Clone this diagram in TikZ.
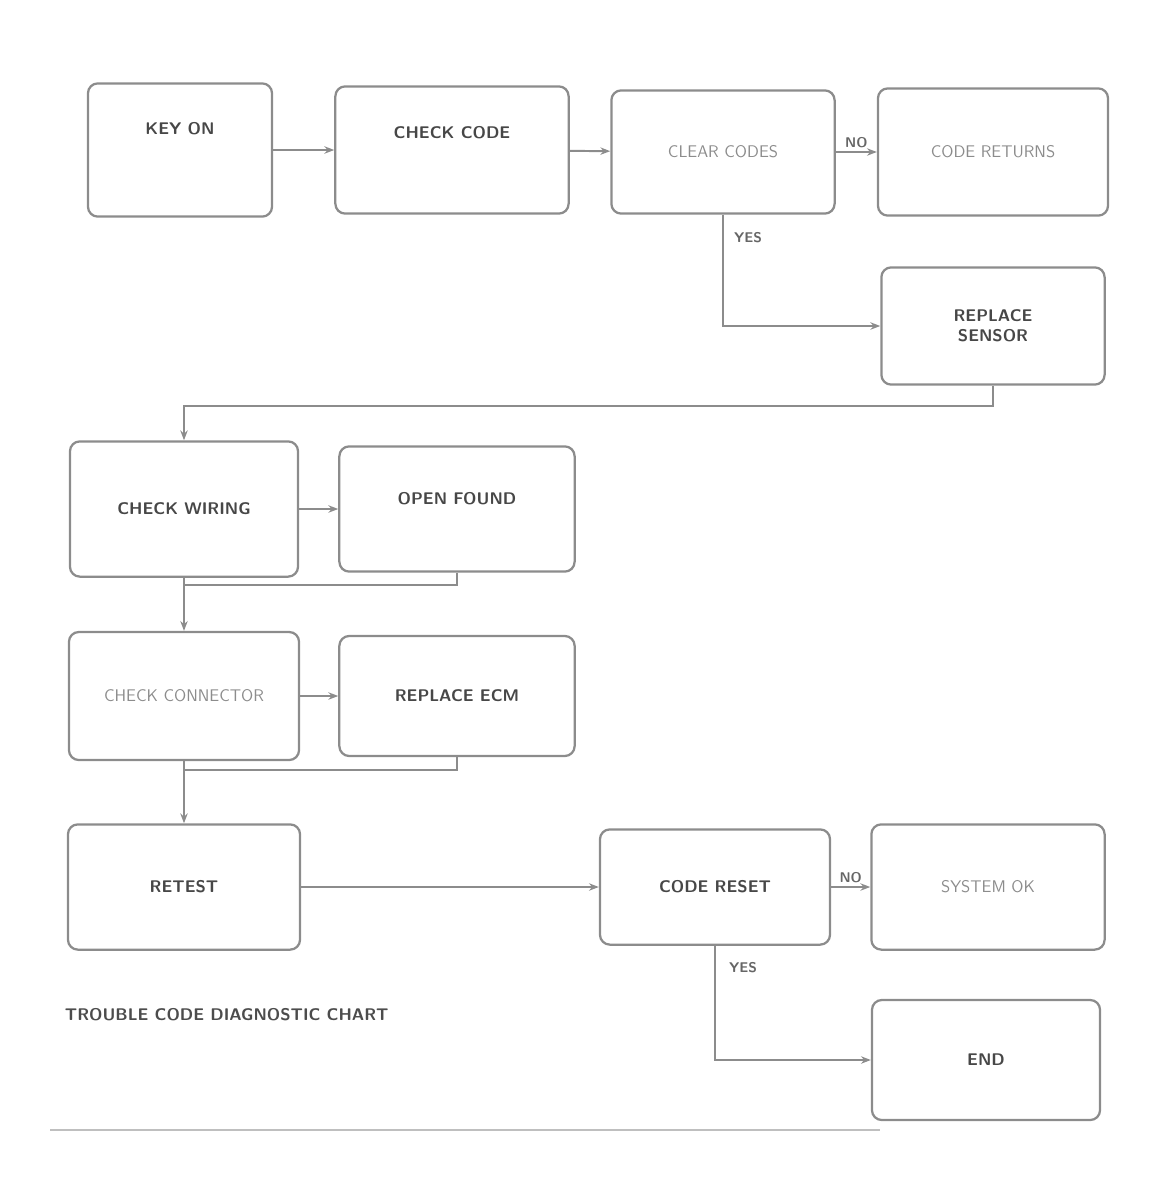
\documentclass[tikz,border=0pt]{standalone}
\usetikzlibrary{arrows.meta}

\tikzset{
    chartbox/.style={draw=black!45,line width=1.6pt,rounded corners=7pt,align=center,
        font=\sffamily\large\bfseries,text=black!72,inner sep=4pt},
    lightbox/.style={chartbox,font=\sffamily\large,text=black!45},
    raised/.style={text height=9pt,text depth=#1},
    answer/.style={font=\sffamily\bfseries,text=black!60,inner sep=2pt}
}

\begin{document}
\begin{tikzpicture}[x=0.025cm,y=-0.025cm,>={Stealth[length=7pt]}]
    \useasboundingbox (0,0) rectangle (1157,1204);

        % steps of the chart
        \begin{scope}[every node/.style={chartbox}]
            \node[raised=1.1cm,minimum width=4.6cm,minimum height=3.33cm] (1) at (180,150) {KEY ON};
            \node[raised=0.9cm,minimum width=5.83cm,minimum height=3.18cm] (2) at (452,150) {CHECK CODE};
            \node[lightbox,minimum width=5.58cm,minimum height=3.08cm] (3) at (723,152) {CLEAR CODES};
            \node[lightbox,minimum width=5.75cm,minimum height=3.18cm] (4) at (993,152) {CODE RETURNS};
            \node[minimum width=5.58cm,minimum height=2.93cm] (5) at (993,326) {REPLACE\\SENSOR};
            \node[minimum width=5.7cm,minimum height=3.38cm] (6) at (184,509) {CHECK WIRING};
            \node[raised=0.55cm,minimum width=5.88cm,minimum height=3.13cm] (7) at (457,509) {OPEN FOUND};
            \node[lightbox,minimum width=5.75cm,minimum height=3.2cm] (8) at (184,696) {CHECK CONNECTOR};
            \node[minimum width=5.88cm,minimum height=3.0cm] (9) at (457,696) {REPLACE ECM};
            \node[minimum width=5.8cm,minimum height=3.13cm] (10) at (184,887) {RETEST};
            \node[minimum width=5.75cm,minimum height=2.88cm] (11) at (715,887) {CODE RESET};
            \node[lightbox,minimum width=5.83cm,minimum height=3.13cm] (12) at (988,887) {SYSTEM OK};
            \node[minimum width=5.7cm,minimum height=3.0cm] (13) at (986,1060) {END};
        \end{scope}

        \node[anchor=west,font=\sffamily\large\bfseries,text=black!70] (cap) at (60,1015) {TROUBLE CODE DIAGNOSTIC CHART};
        \coordinate (m1) at (184,585);
        \coordinate (m2) at (184,770);
        \coordinate (r1) at (50,1130);
        \coordinate (r2) at (880,1130);

        % connectors
        \begin{scope}[every edge/.style={draw=black!45,line width=1.4pt}]
            \path [->] (1) edge (2);
            \path [->] (2) edge (3);
            \path [->] (3) edge node[answer,above] (n1) {NO} (4);
            \path [->] (6) edge (7);
            \path [->] (8) edge (9);
            \path [->] (10) edge (11);
            \path [->] (11) edge node[answer,above] (n2) {NO} (12);
        \end{scope}

        \begin{scope}[draw=black!45,line width=1.4pt]
            \draw [->] (3.south) |- (5.west);
            \draw [->] (5.south) -- ++(0,20) -| (6.north);
            \draw (7.south) |- (m1);
            \draw [->] (6.south) -- (8.north);
            \draw (9.south) |- (m2);
            \draw [->] (8.south) -- (10.north);
            \draw [->] (11.south) |- (13.west);
            \draw [line width=0.8pt,draw=black!25] (r1) -- (r2);
        \end{scope}

        \node[answer] (y1) at (748,238) {YES};
        \node[answer] (y2) at (743,968) {YES};

\end{tikzpicture}
\end{document}
